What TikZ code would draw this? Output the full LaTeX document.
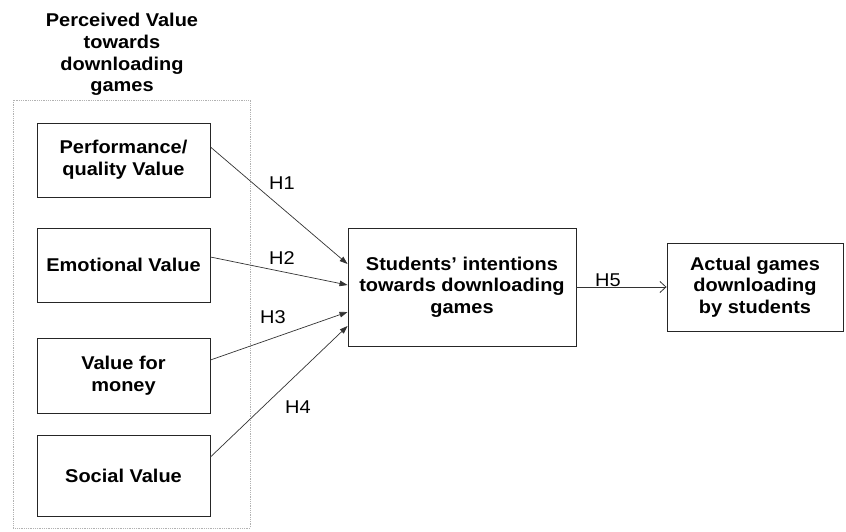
\documentclass[tikz,border=0pt]{standalone}
\usepackage{fontspec}
\setmainfont{Liberation Sans}[FakeStretch=1.08]
\usetikzlibrary{arrows.meta}
\begin{document}
\begin{tikzpicture}[x=1pt,y=-1pt,
  box/.style={draw=black!85,line width=0.9pt,rectangle,inner sep=0pt,align=center,
    font=\fontsize{18.5}{21.7}\selectfont\bfseries},
  hlabel/.style={inner sep=0pt,font=\fontsize{18.5}{21}\selectfont},
  link/.style={draw=black!80,line width=0.7pt,-{Triangle[length=8pt,width=5.5pt]}},
  openlink/.style={draw=black!80,line width=0.7pt,-{Straight Barb[length=6pt,width=11pt,line width=0.8pt]}}]
\useasboundingbox (0,0) rectangle (846,531);
\fill[white] (0,0) rectangle (846,531);
% group frame
\draw[black!30,densely dotted,line width=0.8pt] (13,100) rectangle (250,528);
\node[inner sep=0pt,align=center,font=\fontsize{18.5}{21.7}\selectfont\bfseries] (title) at (122,54.5)
  {Perceived Value\\towards\\downloading\\games};
% boxes
\node[box,minimum width=173pt,minimum height=74pt] (b1) at (123.5,160) {Performance/\\quality Value};
\node[box,minimum width=173pt,minimum height=74pt] (b2) at (123.5,265) {Emotional Value};
\node[box,minimum width=173pt,minimum height=75pt] (b3) at (123.5,375.5) {Value for\\money};
\node[box,minimum width=173pt,minimum height=81pt] (b4) at (123.5,475.5) {Social Value};
\node[box,minimum width=228pt,minimum height=118pt] (c) at (462,287) {Students' intentions\\towards downloading\\games};
\node[box,minimum width=176pt,minimum height=88pt] (r) at (755,287) {Actual games\\downloading\\by students};
% connectors
\draw[link] ([yshift=13pt]b1.east) -- ([yshift=23pt]c.west);
\draw[link] ([yshift=8pt]b2.east) -- ([yshift=2pt]c.west);
\draw[link] ([yshift=15.5pt]b3.east) -- ([yshift=-25pt]c.west);
\draw[link] ([yshift=18.5pt]b4.east) -- ([yshift=-39pt]c.west);
\draw[openlink] (c.east) -- (r.west);
% labels
\node[hlabel] (h1) at (282,183) {H1};
\node[hlabel] (h2) at (282,258) {H2};
\node[hlabel] (h3) at (273,317) {H3};
\node[hlabel] (h4) at (298,407) {H4};
\node[hlabel] (h5) at (608,280) {H5};
\end{tikzpicture}
\end{document}
